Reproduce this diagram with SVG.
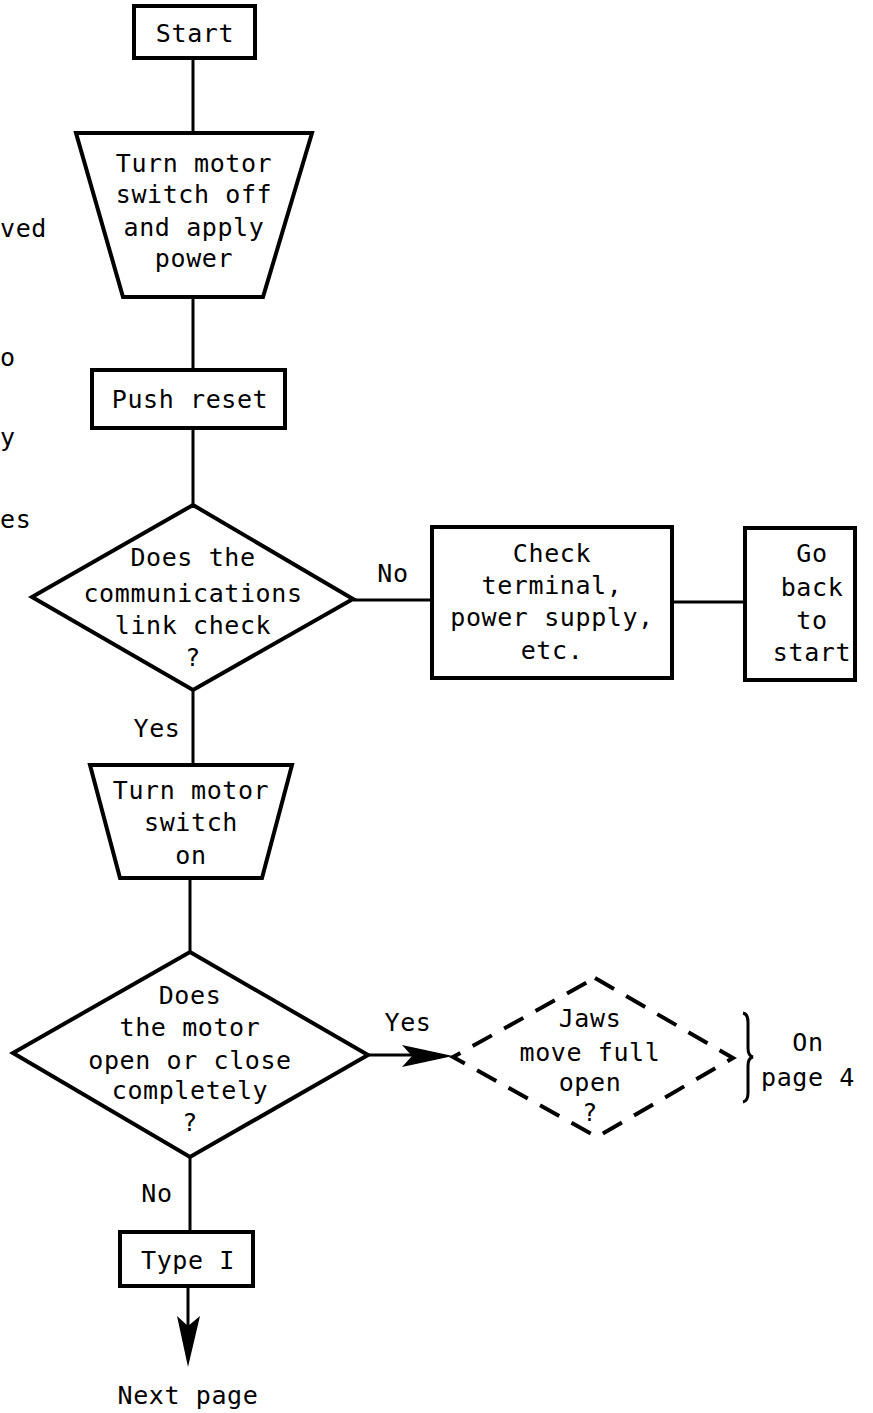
<svg xmlns="http://www.w3.org/2000/svg" width="873" height="1413" viewBox="0 0 873 1413">
<style>
text{font-family:"DejaVu Sans Mono","Liberation Mono",monospace;font-size:25px;letter-spacing:0.6px;fill:#000;text-anchor:middle}
.shape{fill:#fff;stroke:#000;stroke-width:4;stroke-linejoin:miter}
.dash{fill:none;stroke:#000;stroke-width:4;stroke-dasharray:22 14}
.ln{stroke:#000;stroke-width:3;fill:none}
.l{text-anchor:start}
</style>
<rect width="873" height="1413" fill="#fff"/>
<g id="fragments">
<text class="l" x="0" y="237">ved</text>
<text class="l" x="0" y="366">o</text>
<text class="l" x="0" y="446">y</text>
<text class="l" x="0" y="528">es</text>
</g>
<g id="connectors">
<line class="ln" x1="193" y1="58" x2="193" y2="133"/>
<line class="ln" x1="193" y1="297" x2="193" y2="370"/>
<line class="ln" x1="193" y1="428" x2="193" y2="505"/>
<line class="ln" x1="353" y1="600" x2="432" y2="600"/>
<line class="ln" x1="672" y1="602" x2="745" y2="602"/>
<line class="ln" x1="193" y1="690" x2="193" y2="765"/>
<line class="ln" x1="190" y1="878" x2="190" y2="952"/>
<line class="ln" x1="368" y1="1055" x2="420" y2="1055"/>
<path d="M453,1056 L402,1045 L412,1056 L402,1067 Z" fill="#000"/>
<line class="ln" x1="190" y1="1157" x2="190" y2="1232"/>
<line class="ln" x1="188" y1="1286" x2="188" y2="1330"/>
<path d="M188,1367 L177,1316 L188,1326 L200,1316 Z" fill="#000"/>
<text x="393" y="582">No</text>
<text x="157" y="737">Yes</text>
<text x="408" y="1031">Yes</text>
<text x="157" y="1202">No</text>
</g>
<g id="start">
<rect class="shape" x="134" y="6" width="121" height="52"/>
<text x="195" y="42">Start</text>
</g>
<g id="power">
<polygon class="shape" points="76,133 312,133 263,297 123,297"/>
<text x="194" y="172">Turn motor</text>
<text x="194" y="203">switch off</text>
<text x="194" y="236">and apply</text>
<text x="194" y="267">power</text>
</g>
<g id="reset">
<rect class="shape" x="92" y="370" width="193" height="58"/>
<text x="190" y="408">Push reset</text>
</g>
<g id="commcheck">
<polygon class="shape" points="193,505 353,599 193,690 32,597"/>
<text x="193" y="566">Does the</text>
<text x="193" y="602">communications</text>
<text x="193" y="634">link check</text>
<text x="193" y="666">?</text>
</g>
<g id="checkterm">
<rect class="shape" x="432" y="527" width="240" height="151"/>
<text x="552" y="562">Check</text>
<text x="552" y="594">terminal,</text>
<text x="552" y="626">power supply,</text>
<text x="552" y="659">etc.</text>
</g>
<g id="goback">
<rect class="shape" x="745" y="528" width="110" height="152"/>
<text x="812" y="562">Go</text>
<text x="812" y="596">back</text>
<text x="812" y="629">to</text>
<text x="812" y="661">start</text>
</g>
<g id="motoron">
<polygon class="shape" points="90,765 292,765 262,878 120,878"/>
<text x="191" y="799">Turn motor</text>
<text x="191" y="831">switch</text>
<text x="191" y="864">on</text>
</g>
<g id="motoropen">
<polygon class="shape" points="190,952 368,1055 190,1157 13,1053"/>
<text x="190" y="1004">Does</text>
<text x="190" y="1036">the motor</text>
<text x="190" y="1069">open or close</text>
<text x="190" y="1099">completely</text>
<text x="190" y="1131">?</text>
</g>
<g id="jaws">
<polygon class="dash" points="595,978 733,1058 597,1137 453,1057"/>
<text x="590" y="1027">Jaws</text>
<text x="590" y="1061">move full</text>
<text x="590" y="1091">open</text>
<text x="590" y="1121">?</text>
</g>
<g id="page4">
<path d="M743,1013 Q748,1014 748,1022 L748,1048 Q748,1056 753,1057 Q748,1058 748,1066 L748,1093 Q748,1101 743,1102" fill="none" stroke="#000" stroke-width="3"/>
<text x="808" y="1051">On</text>
<text x="808" y="1086">page 4</text>
</g>
<g id="type1">
<rect class="shape" x="120" y="1232" width="133" height="54"/>
<text x="188" y="1269">Type I</text>
</g>
<g id="nextpage">
<text x="188" y="1404">Next page</text>
</g>
</svg>
